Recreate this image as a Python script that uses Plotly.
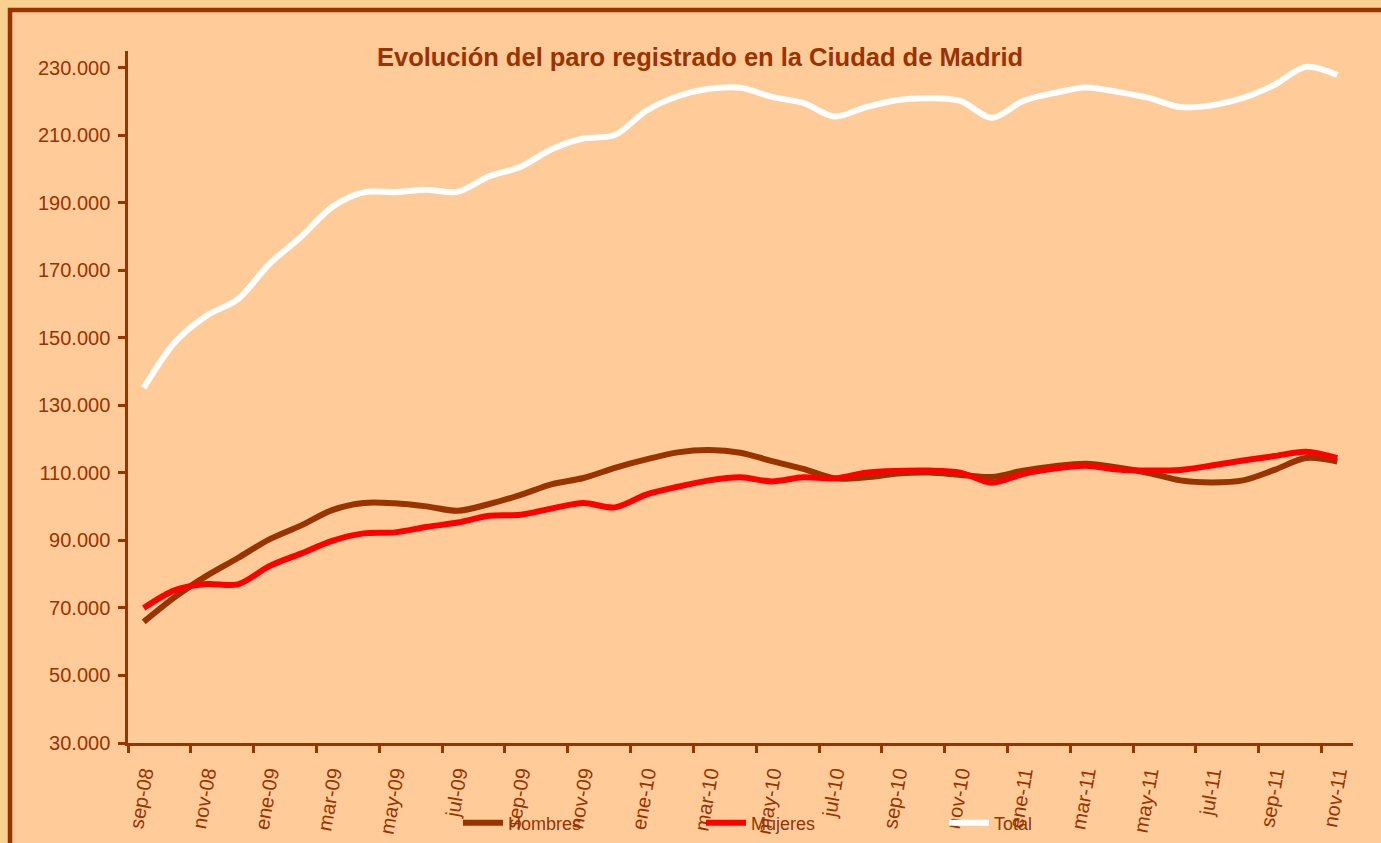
import plotly.graph_objects as go

meses = ["sep-08", "oct-08", "nov-08", "dic-08", "ene-09", "feb-09", "mar-09", "abr-09",
         "may-09", "jun-09", "jul-09", "ago-09", "sep-09", "oct-09", "nov-09", "dic-09",
         "ene-10", "feb-10", "mar-10", "abr-10", "may-10", "jun-10", "jul-10", "ago-10",
         "sep-10", "oct-10", "nov-10", "dic-10", "ene-11", "feb-11", "mar-11", "abr-11",
         "may-11", "jun-11", "jul-11", "ago-11", "sep-11", "oct-11", "nov-11"]

hombres = [65900, 73300, 79500, 84800, 90300, 94400, 99000, 101100, 101000, 100100,
           98800, 100800, 103500, 106700, 108500, 111500, 114000, 116100, 116800, 116000,
           113500, 111200, 108400, 108700, 109800, 110100, 109400, 108800, 110700, 112000,
           112700, 111600, 110000, 107800, 107200, 107800, 110900, 114400, 113400]

mujeres = [70000, 75300, 77100, 77000, 82400, 86100, 89900, 92100, 92400, 94000,
           95300, 97300, 97600, 99500, 101100, 99800, 103600, 105900, 107800, 108700,
           107500, 108700, 108400, 110100, 110600, 110700, 110100, 107100, 109700, 111300,
           112100, 111000, 110700, 110900, 112200, 113700, 115000, 116300, 114400]

total = [135200, 148800, 156600, 161500, 171900, 179900, 188800, 193100, 193200, 193900,
         193300, 197900, 200700, 206000, 209100, 210100, 217300, 221600, 223800, 224100,
         221400, 219600, 215600, 218400, 220500, 221000, 220200, 215200, 220200, 222600,
         224200, 222900, 221100, 218400, 218900, 221100, 225000, 230300, 227900]

y_ticks = list(range(30000, 230001, 20000))

BROWN = "#993300"
FONT = "Liberation Sans, Arial, sans-serif"

idx = list(range(len(meses)))

fig = go.Figure()
series = [("Hombres", hombres, BROWN), ("Mujeres", mujeres, "#FF0000"), ("Total", total, "#FFFFFF")]
for name, vals, col in series:
    fig.add_trace(go.Scatter(x=idx, y=vals, name=name, mode="lines",
                             line=dict(color=col, width=6, shape="spline", smoothing=0.9),
                             hoverinfo="skip"))

W, H = 1381, 843
ml, mr, mt, mb = 128, 28, 51, 100
pw, ph = W - ml - mr, H - mt - mb

def px_x(p):
    return (p - ml) / pw

def px_y(p):
    return (H - mb - p) / ph

fig.add_shape(type="rect", xref="paper", yref="paper",
              x0=px_x(10), x1=px_x(1400), y0=px_y(860), y1=px_y(10),
              fillcolor="#FFCC99", line=dict(color=BROWN, width=4.5), layer="below")

fig.update_layout(
    width=W, height=H, autosize=False,
    margin=dict(l=ml, r=mr, t=mt, b=mb, pad=0, autoexpand=False),
    paper_bgcolor="#F8D090",
    plot_bgcolor="rgba(0,0,0,0)",
    separators=",.",
    font=dict(family=FONT, color=BROWN),
    title=dict(text="<b>Evolución del paro registrado en la Ciudad de Madrid</b>",
               x=px_x(700), xanchor="center", xref="paper",
               y=1 - 57 / H, yanchor="middle",
               font=dict(size=25.5, color=BROWN, family=FONT)),
    showlegend=True,
    legend=dict(orientation="h", xref="container", x=458 / W, xanchor="left",
                yref="container", y=(H - 823) / H, yanchor="middle",
                bgcolor="rgba(0,0,0,0)", font=dict(size=18, color=BROWN, family=FONT),
                entrywidth=188, entrywidthmode="pixels", itemwidth=40,
                tracegroupgap=0),
    xaxis=dict(range=[-0.5, len(meses) - 0.5], showgrid=False, zeroline=False,
               automargin=False,
               showline=True, linecolor=BROWN, linewidth=2.5,
               tickmode="array", tickvals=idx[::2], ticktext=meses[::2],
               ticks="", tickangle=-80, ticklabelstandoff=8,
               tickfont=dict(size=20, color=BROWN, family=FONT),
               minor=dict(tickmode="array", tickvals=[i - 0.5 for i in idx[::2]],
                          ticks="outside", ticklen=7, tickwidth=2.5, tickcolor=BROWN,
                          showgrid=False)),
    yaxis=dict(range=[30000, 235000], showgrid=False, zeroline=False,
               automargin=False,
               showline=True, linecolor=BROWN, linewidth=2.5,
               tickmode="array", tickvals=y_ticks, tickformat=",d",
               ticks="outside", ticklen=7, tickwidth=2.5, tickcolor=BROWN,
               ticklabelstandoff=4,
               tickfont=dict(size=20, color=BROWN, family=FONT)),
)

fig.write_html("out.html",
               config={"responsive": False, "displayModeBar": False},
               post_script="document.body.style.margin='0';document.body.style.overflow='hidden';")
